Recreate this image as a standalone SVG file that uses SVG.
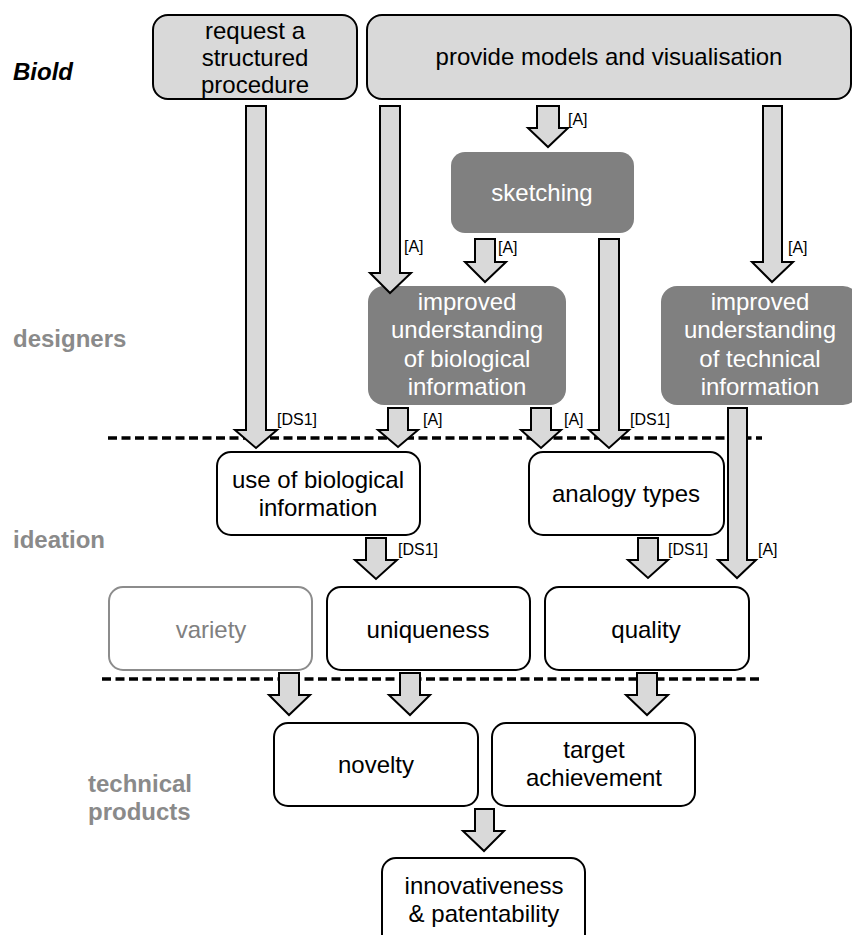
<svg xmlns="http://www.w3.org/2000/svg" width="852" height="935" viewBox="0 0 852 935">
<style>
text{font-family:"Liberation Sans",Arial,sans-serif}
.bt{font-size:24px;fill:#000;text-anchor:middle}
.wt{font-size:24px;fill:#fff;text-anchor:middle}
.gt{font-size:24px;fill:#808080;text-anchor:middle}
.side{font-size:24px;font-weight:bold;fill:#8a8a8a}
.lbl{font-size:16px;fill:#000}
.light{fill:#d9d9d9;stroke:#000;stroke-width:2}
.dark{fill:#808080;stroke:none}
.white{fill:#fff;stroke:#000;stroke-width:2}
.grey{fill:#fff;stroke:#8c8c8c;stroke-width:2}
.arr{fill:#d9d9d9;stroke:#000;stroke-width:2;stroke-linejoin:miter}
.dash{stroke:#000;stroke-width:3.5;stroke-dasharray:9 4.5;fill:none}
</style>
<rect width="852" height="935" fill="#fff"/>
<g id="side-labels">
<text x="13" y="80" style="font-size:24px;font-weight:bold;font-style:italic">Biold</text>
<text class="side" x="13" y="347">designers</text>
<text class="side" x="13" y="548">ideation</text>
<text class="side" x="88" y="792">technical</text>
<text class="side" x="88" y="820">products</text>
</g>
<g id="dividers">
<line class="dash" x1="108" y1="438" x2="762" y2="438"/>
<line class="dash" x1="102" y1="679" x2="763" y2="679"/>
</g>
<g id="request">
<rect class="light" x="153" y="15" width="204" height="84" rx="15"/>
<text class="bt" x="255" y="39">request a</text>
<text class="bt" x="255" y="66">structured</text>
<text class="bt" x="255" y="93">procedure</text>
</g>
<g id="provide">
<rect class="light" x="367" y="15" width="484" height="84" rx="15"/>
<text class="bt" x="609" y="65">provide models and visualisation</text>
</g>
<g id="sketching">
<rect class="dark" x="451" y="152" width="183" height="81" rx="14"/>
<text class="wt" x="542" y="201">sketching</text>
</g>
<g id="understand-bio">
<rect class="dark" x="368" y="286" width="198" height="119" rx="16"/>
<text class="wt" x="467" y="310">improved</text>
<text class="wt" x="467" y="338">understanding</text>
<text class="wt" x="467" y="367">of biological</text>
<text class="wt" x="467" y="395">information</text>
</g>
<g id="understand-tech">
<rect class="dark" x="661" y="286" width="198" height="119" rx="16"/>
<text class="wt" x="760" y="310">improved</text>
<text class="wt" x="760" y="338">understanding</text>
<text class="wt" x="760" y="367">of technical</text>
<text class="wt" x="760" y="395">information</text>
</g>
<g id="use-bio">
<rect class="white" x="217" y="452" width="203" height="83" rx="14"/>
<text class="bt" x="318" y="488">use of biological</text>
<text class="bt" x="318" y="516">information</text>
</g>
<g id="analogy">
<rect class="white" x="529" y="452" width="195" height="83" rx="14"/>
<text class="bt" x="626" y="502">analogy types</text>
</g>
<g id="variety">
<rect class="grey" x="109" y="587" width="203" height="83" rx="14"/>
<text class="gt" x="211" y="638">variety</text>
</g>
<g id="uniqueness">
<rect class="white" x="327" y="587" width="203" height="83" rx="14"/>
<text class="bt" x="428" y="638">uniqueness</text>
</g>
<g id="quality">
<rect class="white" x="545" y="587" width="204" height="83" rx="14"/>
<text class="bt" x="646" y="638">quality</text>
</g>
<g id="novelty">
<rect class="white" x="274" y="723" width="204" height="83" rx="14"/>
<text class="bt" x="376" y="773">novelty</text>
</g>
<g id="target">
<rect class="white" x="492" y="723" width="203" height="83" rx="14"/>
<text class="bt" x="594" y="758">target</text>
<text class="bt" x="594" y="786">achievement</text>
</g>
<g id="innovativeness">
<rect class="white" x="382" y="858" width="203" height="90" rx="14"/>
<text class="bt" x="484" y="894">innovativeness</text>
<text class="bt" x="484" y="922">&amp; patentability</text>
</g>
<g id="connectors">
<polygon class="arr" points="246,106 266,106 266,430 277,430 256,448 235,430 246,430"/>
<polygon class="arr" points="380,106 400,106 400,273 411,273 390,293 370,273 380,273"/>
<polygon class="arr" points="537,106 559,106 559,128 568,128 548,147 528,128 537,128"/>
<polygon class="arr" points="475,239 495,239 495,262 506,262 485,282 465,262 475,262"/>
<polygon class="arr" points="599,239 619,239 619,430 629,430 609,448 589,430 599,430"/>
<polygon class="arr" points="763,106 782,106 782,262 793,262 772,282 752,262 763,262"/>
<polygon class="arr" points="388,408 408,408 408,430 418,430 398,447 378,430 388,430"/>
<polygon class="arr" points="531,408 551,408 551,430 561,430 541,448 521,430 531,430"/>
<polygon class="arr" points="728,408 747,408 747,560 756,560 737,578 718,560 728,560"/>
<polygon class="arr" points="366,538 386,538 386,560 397,560 376,579 355,560 366,560"/>
<polygon class="arr" points="638,538 658,538 658,560 668,560 648,578 628,560 638,560"/>
<polygon class="arr" points="279,673 299,673 299,695 310,695 289,715 269,695 279,695"/>
<polygon class="arr" points="400,673 420,673 420,695 430,695 410,715 389,695 400,695"/>
<polygon class="arr" points="637,673 657,673 657,695 668,695 647,715 626,695 637,695"/>
<polygon class="arr" points="475,809 494,809 494,831 504,831 484,851 463,831 475,831"/>
<text class="lbl" x="404" y="252">[A]</text>
<text class="lbl" x="568" y="125">[A]</text>
<text class="lbl" x="498" y="253">[A]</text>
<text class="lbl" x="788" y="253">[A]</text>
<text class="lbl" x="277" y="425">[DS1]</text>
<text class="lbl" x="423" y="425">[A]</text>
<text class="lbl" x="564" y="425">[A]</text>
<text class="lbl" x="630" y="425">[DS1]</text>
<text class="lbl" x="398" y="555">[DS1]</text>
<text class="lbl" x="668" y="555">[DS1]</text>
<text class="lbl" x="758" y="555">[A]</text>
</g>
</svg>
